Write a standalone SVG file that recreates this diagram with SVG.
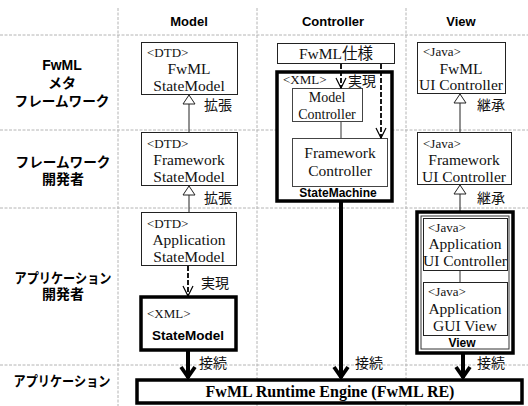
<svg xmlns="http://www.w3.org/2000/svg" width="528" height="406" viewBox="0 0 528 406">
<style>
.grid{stroke:#b4b4b4;stroke-width:1;stroke-dasharray:3,1.5;fill:none}
.box{fill:#fff;stroke:#222;stroke-width:1}
.ibox{fill:#fff;stroke:#444;stroke-width:1}
.thick{fill:#fff;stroke:#000;stroke-width:3.5}
.s{font-family:"Liberation Serif","Noto Sans CJK JP",serif;font-size:15.5px;fill:#111}
.sm{font-size:14px}
.st{font-family:"Liberation Serif",serif;font-size:13px;fill:#111}
.hd{font-family:"Liberation Sans",Arial,sans-serif;font-weight:bold;font-size:13px;fill:#000}
.row{font-family:"Liberation Sans","Noto Sans CJK JP",sans-serif;font-weight:bold;font-size:14px;fill:#000}
.jp{font-family:"Noto Sans CJK JP",sans-serif;font-size:14px;fill:#111}
.bl{font-family:"Liberation Sans",Arial,sans-serif;font-weight:bold;fill:#000}
.c{text-anchor:middle}
.inh{stroke:#222;stroke-width:1;fill:none}
.dash{stroke:#000;stroke-width:1.8;stroke-dasharray:5,2;fill:none}
.conn{stroke:#000;stroke-width:4;fill:none}
.thin{stroke:#333;stroke-width:1;fill:none}
</style>
<defs>
<marker id="tri" markerUnits="userSpaceOnUse" markerWidth="12" markerHeight="14" viewBox="-1 -7 11 14" refX="9" refY="0" orient="auto">
<path d="M0,-6 L9,0 L0,6 Z" fill="#fff" stroke="#222" stroke-width="1"/>
</marker>
<marker id="vee" markerUnits="userSpaceOnUse" markerWidth="12" markerHeight="14" viewBox="-1 -7 12 14" refX="10" refY="0" orient="auto">
<path d="M0,-5 L10,0 L0,5" fill="none" stroke="#000" stroke-width="1.2"/>
</marker>
<marker id="big" markerUnits="userSpaceOnUse" markerWidth="16" markerHeight="20" viewBox="-2 -10 16 20" refX="12" refY="0" orient="auto">
<path d="M1,-7 L11,0 L1,7" fill="none" stroke="#000" stroke-width="3.8" stroke-linejoin="miter"/>
</marker>
</defs>
<rect width="528" height="406" fill="#fff"/>
<g id="grid">
<line class="grid" x1="0" y1="35" x2="528" y2="35"/>
<line class="grid" x1="0" y1="130" x2="528" y2="130"/>
<line class="grid" x1="0" y1="208" x2="528" y2="208"/>
<line class="grid" x1="0" y1="365" x2="528" y2="365"/>
<line class="grid" x1="118" y1="8" x2="118" y2="406"/>
<line class="grid" x1="257" y1="8" x2="257" y2="406"/>
<line class="grid" x1="406" y1="8" x2="406" y2="406"/>
</g>
<g id="headers">
<text class="hd c" x="189" y="26">Model</text>
<text class="hd c" x="333" y="26">Controller</text>
<text class="hd c" x="461" y="26">View</text>
</g>
<g id="rows">
<text class="row c" x="62" y="70">FwML</text>
<text class="row c" x="62" y="88">メタ</text>
<text class="row c" x="62" y="106" textLength="95" lengthAdjust="spacingAndGlyphs">フレームワーク</text>
<text class="row c" x="63" y="167" textLength="95" lengthAdjust="spacingAndGlyphs">フレームワーク</text>
<text class="row c" x="63" y="184">開発者</text>
<text class="row c" x="63" y="283" textLength="97" lengthAdjust="spacingAndGlyphs">アプリケーション</text>
<text class="row c" x="63" y="299">開発者</text>
<text class="row c" x="62" y="386" textLength="97" lengthAdjust="spacingAndGlyphs">アプリケーション</text>
</g>
<g id="connectors">
<line class="inh" x1="189" y1="132" x2="189" y2="95" marker-end="url(#tri)"/>
<line class="inh" x1="189" y1="212" x2="189" y2="186" marker-end="url(#tri)"/>
<line class="dash" x1="188" y1="266" x2="188" y2="296" marker-end="url(#vee)"/>
<line class="inh" x1="460" y1="132" x2="460" y2="94" marker-end="url(#tri)"/>
<line class="inh" x1="460" y1="212" x2="460" y2="185" marker-end="url(#tri)"/>
<line class="conn" x1="188" y1="351" x2="188" y2="378" marker-end="url(#big)"/>
<line class="conn" x1="341" y1="202" x2="341" y2="378" marker-end="url(#big)"/>
<line class="conn" x1="463" y1="354" x2="463" y2="378" marker-end="url(#big)"/>
<text class="jp" x="204" y="110">拡張</text>
<text class="jp" x="204" y="203">拡張</text>
<text class="jp" x="201" y="288">実現</text>
<text class="jp" x="477" y="110">継承</text>
<text class="jp" x="477" y="203">継承</text>
<text class="jp" x="199" y="368">接続</text>
<text class="jp" x="355" y="368">接続</text>
<text class="jp" x="477" y="368">接続</text>
</g>
<g id="fwml-statemodel">
<rect class="box" x="141.5" y="42.5" width="96" height="52"/>
<text class="st" x="147" y="57">&lt;DTD&gt;</text>
<text class="s c" x="189" y="74">FwML</text>
<text class="s c" x="189" y="91">StateModel</text>
</g>
<g id="framework-statemodel">
<rect class="box" x="141.5" y="132.5" width="96" height="53"/>
<text class="st" x="147" y="148">&lt;DTD&gt;</text>
<text class="s c" x="189" y="165">Framework</text>
<text class="s c" x="189" y="182">StateModel</text>
</g>
<g id="application-statemodel">
<rect class="box" x="141.5" y="212.5" width="95" height="53"/>
<text class="st" x="147" y="228">&lt;DTD&gt;</text>
<text class="s c" x="189" y="245">Application</text>
<text class="s c" x="189" y="262">StateModel</text>
</g>
<g id="xml-statemodel">
<rect class="thick" x="141" y="297" width="95" height="53"/>
<text class="st" x="147" y="318">&lt;XML&gt;</text>
<text class="bl c" x="188" y="340" font-size="13.5">StateModel</text>
</g>
<g id="fwml-spec">
<rect class="box" x="277.5" y="43.5" width="117" height="20"/>
<text class="s c" x="336" y="59">FwML仕様</text>
</g>
<g id="statemachine">
<rect class="thick" x="277" y="72" width="115" height="129"/>
<text class="st" x="283" y="84">&lt;XML&gt;</text>
<text class="bl c" x="338" y="197" font-size="12">StateMachine</text>
</g>
<g id="model-controller">
<rect class="ibox" x="292.5" y="88.5" width="70" height="33"/>
<text class="s sm c" x="327" y="102">Model</text>
<text class="s sm c" x="327" y="119">Controller</text>
</g>
<g id="framework-controller">
<rect class="ibox" x="292.5" y="138.5" width="95" height="48"/>
<text class="s c" x="340" y="158">Framework</text>
<text class="s c" x="340" y="176">Controller</text>
</g>
<g id="controller-connectors">
<line class="thin" x1="341" y1="122" x2="341" y2="138"/>
<line class="dash" x1="341" y1="64" x2="341" y2="88" marker-end="url(#vee)"/>
<line class="dash" x1="381" y1="64" x2="381" y2="138" marker-end="url(#vee)"/>
<text class="jp" x="348" y="86">実現</text>
</g>
<g id="fwml-ui-controller">
<rect class="box" x="417.5" y="42.5" width="88" height="51"/>
<text class="st" x="423" y="56">&lt;Java&gt;</text>
<text class="s c" x="461" y="74">FwML</text>
<text class="s c" x="461" y="90">UI Controller</text>
</g>
<g id="framework-ui-controller">
<rect class="box" x="417.5" y="132.5" width="94" height="52"/>
<text class="st" x="423" y="148">&lt;Java&gt;</text>
<text class="s c" x="464" y="165">Framework</text>
<text class="s c" x="464" y="182">UI Controller</text>
</g>
<g id="view">
<rect class="thick" x="417" y="212" width="96" height="141" stroke-width="4"/>
<rect class="thin" x="421" y="216" width="88" height="133"/>
<text class="bl c" x="462" y="347" font-size="12">View</text>
</g>
<g id="application-ui-controller">
<rect class="box" x="423.5" y="218.5" width="84" height="52"/>
<text class="st" x="428" y="232">&lt;Java&gt;</text>
<text class="s c" x="465" y="249">Application</text>
<text class="s c" x="465" y="266">UI Controller</text>
</g>
<g id="application-gui-view">
<line class="thin" x1="460" y1="271" x2="460" y2="282"/>
<rect class="box" x="423.5" y="282.5" width="84" height="53"/>
<text class="st" x="428" y="296">&lt;Java&gt;</text>
<text class="s c" x="465" y="314">Application</text>
<text class="s c" x="465" y="331">GUI View</text>
</g>
<g id="runtime-engine">
<rect class="thick" x="137" y="380" width="385" height="23"/>
<text class="c" x="330" y="397" font-family="Liberation Serif,serif" font-weight="bold" font-size="16">FwML Runtime Engine (FwML RE)</text>
</g>
</svg>
